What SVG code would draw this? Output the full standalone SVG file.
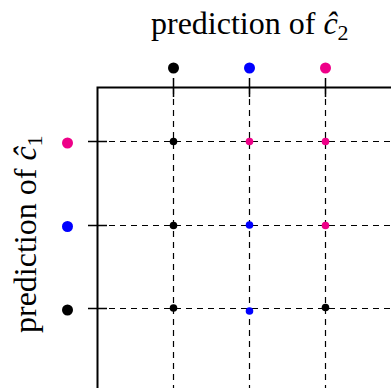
<svg xmlns="http://www.w3.org/2000/svg" width="391" height="388" viewBox="0 0 391 388">
<style>
.lbl{font-family:"Liberation Serif","Times New Roman",serif;font-size:32px;fill:#000}
.axis{stroke:#000;stroke-width:2;fill:none}
.tick{stroke:#000;stroke-width:1.5;fill:none}
.grid{stroke:#000;stroke-width:1.2;stroke-dasharray:6 5;fill:none}
.k{fill:#000}.b{fill:#0000ff}.m{fill:#ee0088}
</style>
<rect width="391" height="388" fill="#fff"/>
<g id="title-top"><text class="lbl" x="151" y="34">prediction of <tspan font-style="italic">ĉ</tspan><tspan font-size="22" dy="6">2</tspan></text></g>
<g id="title-left"><text class="lbl" transform="translate(35.5,333) rotate(-90)">prediction of <tspan font-style="italic">ĉ</tspan><tspan font-size="22" dy="6">1</tspan></text></g>
<g id="connectors">
<path class="grid" d="M173.5 88V388M249.5 88V388M325.5 88V388"/>
<path class="grid" d="M98 141.5H391M98 225.5H391M98 308.5H391"/>
<path class="axis" d="M97.5 388V87.5H391"/>
<path class="tick" d="M173.5 78V97M249.5 78V97M325.5 78V97M88 141.5H107M88 225.5H107M88 308.5H107"/>
</g>
<g id="top-markers">
<circle class="k" cx="173.5" cy="68" r="5.5"/>
<circle class="b" cx="249.5" cy="68" r="5.5"/>
<circle class="m" cx="325.5" cy="68" r="5.5"/>
</g>
<g id="left-markers">
<circle class="m" cx="67.5" cy="143" r="5.5"/>
<circle class="b" cx="67.5" cy="226.5" r="5.5"/>
<circle class="k" cx="67.5" cy="310" r="5.5"/>
</g>
<g id="cells">
<circle class="k" cx="173.5" cy="141.5" r="3.8"/>
<circle class="m" cx="249.5" cy="141.5" r="3.8"/>
<circle class="m" cx="325.5" cy="141.5" r="3.8"/>
<circle class="k" cx="173.5" cy="225.5" r="3.8"/>
<circle class="b" cx="249.5" cy="225" r="3.8"/>
<circle class="m" cx="325.5" cy="225.5" r="3.8"/>
<circle class="k" cx="173.5" cy="308" r="3.8"/>
<circle class="b" cx="249.5" cy="311" r="3.8"/>
<circle class="k" cx="325.5" cy="307.5" r="3.8"/>
</g>
</svg>
